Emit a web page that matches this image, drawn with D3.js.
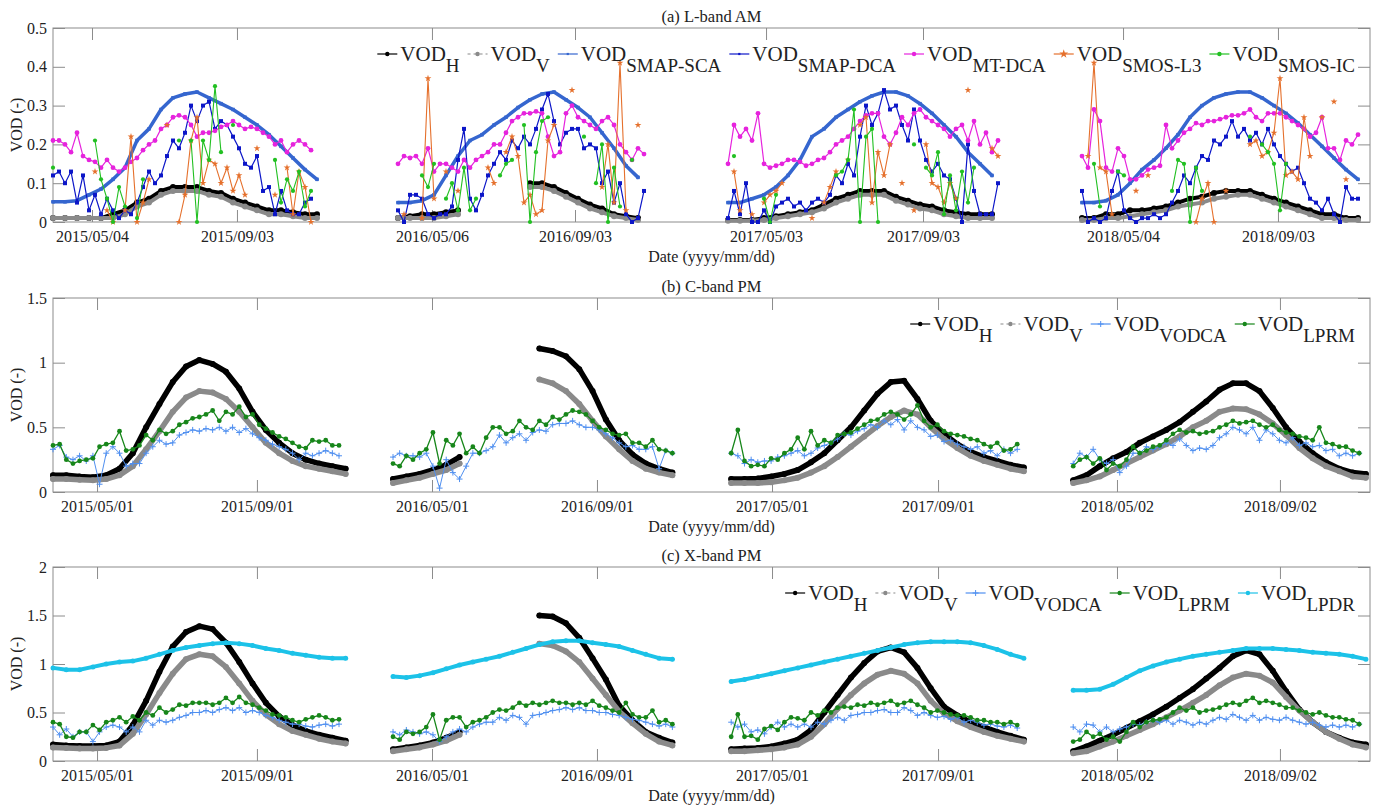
<!DOCTYPE html>
<html><head><meta charset="utf-8">
<script src="https://cdn.jsdelivr.net/npm/d3@7"></script>
<style>
body{margin:0;background:#fff;}
svg{display:block;}
text{font-family:"Liberation Serif","DejaVu Serif",serif;fill:#222;}
</style>
</head><body>
<svg id="chart" width="1380" height="805"></svg>
<script>
// ---------------- DATA ----------------
// x values are sample indices (days of the concatenated growing seasons); each series is 4 seasons
const aTicks = [32.5, 153.3, 315.8, 435, 594.2, 725, 891.7, 1020.8];
const aTickLabels = ["2015/05/04","2015/09/03","2016/05/06","2016/09/03","2017/05/03","2017/09/03","2018/05/04","2018/09/03"];
const aSeasonStart = [0, 287.5, 562.5, 857.5];
const aYTicks = [0, 0.1, 0.2, 0.3, 0.4, 0.5];
const aYLabels = ["0","0.1","0.2","0.3","0.4","0.5"];

const bcTicks = [33.1, 153.3, 284.9, 408.9, 540.5, 665.3, 799.8, 922.3];
const bcTickLabels = ["2015/05/01","2015/09/01","2016/05/01","2016/09/01","2017/05/01","2017/09/01","2018/05/02","2018/09/02"];
const bcSeasonStart = [0, 255.6, 509.8, 766.9];
const bYTicks = [0, 0.5, 1, 1.5];
const bYLabels = ["0","0.5","1","1.5"];
const cYTicks = [0, 0.5, 1, 1.5, 2];
const cYLabels = ["0","0.5","1","1.5","2"];

// (a) L-band AM  (smooth series every 10 samples, noisy every 5)
const aH = [
 [0.01,0.01,0.01,0.01,0.01,0.02,0.03,0.05,0.06,0.08,0.09,0.09,0.09,0.08,0.075,0.06,0.05,0.04,0.03,0.03,0.025,0.02,0.02],
 [0.01,0.015,0.02,0.02,0.025,0.03,null,null,null,null,null,0.1,0.1,0.09,0.075,0.06,0.045,0.035,0.02,0.015,0.01],
 [0.005,0.005,0.005,0.01,0.015,0.02,0.025,0.03,0.045,0.06,0.07,0.08,0.08,0.08,0.065,0.055,0.045,0.04,0.03,0.025,0.02,0.02,0.02],
 [0.01,0.01,0.02,0.02,0.03,0.03,0.035,0.04,0.05,0.06,0.065,0.075,0.08,0.08,0.08,0.07,0.06,0.05,0.04,0.03,0.02,0.02,0.01,0.01]
];
const aV = [
 [0.01,0.01,0.01,0.01,0.01,0.01,0.02,0.04,0.05,0.07,0.08,0.08,0.08,0.07,0.065,0.05,0.04,0.03,0.02,0.02,0.015,0.01,0.01],
 [0.01,0.01,0.01,0.01,0.015,0.02,null,null,null,null,null,0.09,0.09,0.08,0.065,0.05,0.035,0.025,0.015,0.01,0.005],
 [0.003,0.003,0.003,0.005,0.01,0.015,0.02,0.025,0.035,0.05,0.06,0.07,0.07,0.07,0.055,0.045,0.035,0.03,0.02,0.015,0.01,0.01,0.01],
 [0.005,0.005,0.01,0.01,0.015,0.02,0.025,0.03,0.04,0.045,0.05,0.06,0.065,0.07,0.07,0.06,0.05,0.04,0.03,0.02,0.01,0.01,0.005,0.005]
];
const aSCA = [
 [0.052,0.052,0.055,0.07,0.085,0.11,0.14,0.21,0.24,0.29,0.32,0.33,0.335,0.32,0.305,0.29,0.27,0.25,0.225,0.195,0.165,0.135,0.11],
 [0.05,0.05,0.055,0.07,0.12,0.17,0.21,0.225,0.25,0.27,0.295,0.315,0.33,0.335,0.315,0.295,0.27,0.23,0.19,0.145,0.115],
 [0.05,0.05,0.06,0.07,0.09,0.12,0.16,0.22,0.24,0.27,0.29,0.31,0.325,0.335,0.335,0.325,0.305,0.28,0.25,0.22,0.18,0.15,0.12],
 [0.05,0.05,0.055,0.07,0.1,0.135,0.16,0.19,0.225,0.27,0.3,0.32,0.33,0.335,0.335,0.32,0.3,0.28,0.255,0.225,0.195,0.165,0.135,0.11]
];
const aDCA = [
 [0.12,0.13,0.10,0.13,0.05,0.12,0.03,0.07,0.02,0.06,0.03,0.01,0.03,0.02,0.05,0.09,0.13,0.10,0.12,0.17,0.21,0.19,0.23,0.30,0.26,0.30,0.31,0.24,0.26,0.25,0.22,0.19,0.15,0.14,0.17,0.08,0.09,0.02,0.08,0.03,0.02,0.02,0.05,0.06],
 [0.03,0.0,0.07,0.07,0.06,0.02,0.01,0.02,0.02,0.04,0.16,0.24,0.06,0.03,0.07,0.12,0.15,0.18,0.16,0.21,0.19,0.22,0.2,0.24,0.29,0.33,0.26,0.2,0.23,0.24,0.24,0.19,0.2,0.19,0.1,0.13,0.05,0.1,0.02,0.0,0.01,0.08],
 [0.01,0.08,0.02,0.1,0.0,0.0,0.03,0.0,0.04,0.05,0.06,0.04,0.05,0.03,0.05,0.06,0.05,0.07,0.12,0.1,0.15,0.12,0.22,0.3,0.25,0.28,0.34,0.29,0.3,0.25,0.21,0.29,0.21,0.16,0.13,0.15,0.12,0.11,0.06,0.0,0.2,0.08,0.02,0.02,0.02,0.1],
 [0.08,0.0,0.01,0.0,0.01,0.08,0.13,0.03,0.01,0.0,0.01,0.01,0.02,0.01,0.02,0.05,0.08,0.12,0.1,0.14,0.17,0.16,0.21,0.2,0.22,0.26,0.22,0.24,0.21,0.23,0.2,0.24,0.2,0.17,0.15,0.13,0.14,0.1,0.06,0.05,0.03,0.06,0.02,0.0,0.09,0.06,0.06]
];
const aMT = [
 [0.21,0.21,0.20,0.18,0.23,0.17,0.16,0.155,0.14,0.16,0.14,0.13,0.14,0.155,0.165,0.185,0.20,0.21,0.24,0.25,0.27,0.275,0.27,0.25,0.22,0.23,0.23,0.235,0.245,0.25,0.26,0.25,0.24,0.245,0.24,0.23,0.22,0.20,0.21,0.18,0.20,0.21,0.20,0.185],
 [0.15,0.17,0.165,0.17,0.15,0.19,0.13,0.15,0.15,0.14,0.13,0.16,0.14,0.16,0.17,0.18,0.2,0.2,0.23,0.26,0.27,0.28,0.28,0.285,0.28,0.22,0.17,0.18,0.28,0.3,0.27,0.26,0.25,0.24,0.26,0.27,0.25,0.2,0.18,0.16,0.19,0.175],
 [0.15,0.25,0.22,0.24,0.21,0.28,0.15,0.14,0.145,0.15,0.16,0.16,0.155,0.145,0.15,0.16,0.165,0.18,0.2,0.21,0.22,0.24,0.26,0.275,0.28,0.28,0.22,0.2,0.23,0.27,0.25,0.28,0.29,0.27,0.26,0.25,0.24,0.22,0.24,0.25,0.21,0.26,0.2,0.23,0.18,0.21],
 [0.17,0.14,0.29,0.26,0.14,0.13,0.19,0.17,0.11,0.11,0.12,0.135,0.14,0.145,0.25,0.19,0.21,0.23,0.24,0.255,0.25,0.26,0.26,0.265,0.27,0.275,0.275,0.28,0.29,0.27,0.26,0.28,0.28,0.28,0.27,0.26,0.25,0.24,0.22,0.23,0.27,0.19,0.19,0.16,0.21,0.2,0.225]
];
const aL3 = [
 [null,null,null,null,null,null,null,0.13,null,0.03,0.0,null,0.03,0.22,0.0,0.05,0.11,null,null,0.25,null,0.0,0.07,0.21,0.27,0.1,0.16,0.15,0.1,0.14,0.08,0.12,0.07,null,0.19,null,null,0.07,null,0.14,0.02,0.13,0.09,0.0],
 [null,0.02,null,null,0.01,0.37,0.06,null,0.13,null,0.08,null,null,null,null,0.14,0.1,null,0.18,0.22,0.17,0.05,0.07,0.02,0.03,0.21,0.25,null,null,0.34,null,null,null,null,0.09,0.2,0.05,0.41,0.03,null,0.25,null],
 [null,0.13,0.03,null,0.02,null,0.05,0.07,0.08,0.1,null,null,null,null,0.01,null,0.05,0.09,0.13,null,0.16,null,0.25,0.27,0.05,0.18,0.12,0.2,null,0.1,null,0.03,null,0.2,0.1,0.09,0.05,0.1,0.06,null,0.34,null,null,null,0.19,0.17],
 [null,0.17,0.41,0.14,0.13,0.02,null,null,null,0.08,null,0.12,null,null,null,null,null,null,null,0.0,0.06,0.1,0.0,null,0.08,null,null,null,0.2,0.21,0.17,0.18,0.23,0.37,0.12,0.13,0.11,0.27,0.17,null,0.27,null,0.31,null,0.11,null,null]
];
const aIC = [
 [0.14,null,null,null,null,null,null,0.21,0.11,0.06,0.0,0.09,0.04,null,0.01,0.11,null,null,null,null,null,0.21,null,0.21,0.0,0.21,0.16,0.35,0.18,null,0.25,null,null,null,null,null,null,0.16,0.05,0.11,0.08,0.13,0.04,0.08],
 [null,null,null,null,0.12,0.09,0.15,null,0.06,0.1,0.03,0.14,0.03,0.06,null,null,null,0.12,0.15,0.16,null,0.25,0.0,0.18,0.26,0.27,null,null,null,null,null,0.22,null,0.1,0.2,0.0,0.14,0.04,null,0.16,null,null],
 [null,0.17,null,null,null,null,0.06,0.0,0.07,null,null,null,null,null,null,null,null,null,0.12,0.13,0.16,0.29,0.0,0.22,0.24,0.0,null,null,null,null,null,0.2,null,0.14,0.12,0.18,0.02,0.12,0.03,0.13,0.05,0.14,null,null,null,null],
 [null,null,0.15,0.04,null,null,0.13,0.12,null,null,null,null,null,null,null,0.08,0.16,0.15,0.0,0.14,0.08,null,null,null,null,null,null,null,0.22,null,0.2,0.18,0.15,0.03,0.15,null,null,null,null,null,null,null,null,null,null,null,null]
];

// (b) C-band PM
const bH = [
 [0.13,0.13,0.12,0.115,0.13,0.18,0.3,0.5,0.68,0.85,0.97,1.02,0.99,0.93,0.8,0.62,0.48,0.38,0.3,0.25,0.22,0.2,0.18],
 [0.1,0.12,0.14,0.17,0.21,0.27,null,null,null,null,null,1.11,1.09,1.05,0.95,0.78,0.56,0.4,0.29,0.22,0.18,0.15],
 [0.1,0.1,0.105,0.12,0.14,0.17,0.23,0.3,0.4,0.5,0.63,0.76,0.85,0.86,0.72,0.55,0.45,0.37,0.31,0.27,0.24,0.21,0.19],
 [0.09,0.13,0.2,0.26,0.31,0.38,0.43,0.48,0.54,0.62,0.7,0.79,0.84,0.84,0.78,0.65,0.5,0.39,0.3,0.23,0.18,0.15,0.14]
];
const bV = [
 [0.1,0.1,0.095,0.09,0.1,0.13,0.2,0.33,0.47,0.62,0.73,0.78,0.77,0.72,0.62,0.5,0.38,0.3,0.24,0.2,0.18,0.16,0.14],
 [0.07,0.09,0.11,0.14,0.17,0.22,null,null,null,null,null,0.87,0.84,0.78,0.68,0.55,0.43,0.33,0.24,0.18,0.15,0.13],
 [0.07,0.07,0.07,0.075,0.09,0.11,0.15,0.2,0.27,0.35,0.43,0.51,0.58,0.63,0.6,0.5,0.41,0.34,0.28,0.24,0.21,0.18,0.16],
 [0.07,0.09,0.12,0.17,0.22,0.27,0.32,0.37,0.43,0.5,0.55,0.62,0.645,0.64,0.6,0.53,0.44,0.34,0.26,0.2,0.16,0.12,0.11]
];
const bVODCA = [
 [0.33,0.36,0.27,0.25,0.28,0.24,0.28,0.06,0.3,0.35,0.3,0.2,0.22,0.22,0.3,0.35,0.4,0.37,0.38,0.44,0.46,0.48,0.47,0.49,0.48,0.5,0.47,0.5,0.46,0.49,0.45,0.42,0.4,0.37,0.35,0.33,0.3,0.25,0.3,0.28,0.3,0.32,0.3,0.28],
 [0.27,0.3,0.28,0.28,0.27,0.3,0.2,0.03,0.25,0.15,0.1,0.2,0.3,0.3,0.32,0.35,0.44,0.38,0.42,0.45,0.4,0.46,0.48,0.47,0.52,0.53,0.53,0.55,0.52,0.5,0.5,0.48,0.45,0.42,0.38,0.35,0.36,0.33,0.33,0.35,0.18,0.32,0.3],
 [0.3,0.28,0.22,0.25,0.23,0.24,0.24,0.27,0.28,0.3,0.32,0.28,0.3,0.34,0.36,0.38,0.41,0.45,0.44,0.47,0.49,0.52,0.5,0.55,0.52,0.56,0.48,0.55,0.5,0.48,0.43,0.44,0.39,0.4,0.37,0.35,0.33,0.35,0.3,0.32,0.28,0.33,0.3,0.33],
 [0.22,0.3,0.27,0.33,0.25,0.22,0.25,0.15,0.2,0.3,0.3,0.35,0.33,0.35,0.38,0.36,0.41,0.36,0.32,0.34,0.33,0.36,0.42,0.45,0.5,0.48,0.45,0.5,0.4,0.48,0.45,0.4,0.38,0.42,0.36,0.38,0.35,0.36,0.32,0.33,0.28,0.3,0.28,0.3]
];
const bLPRM = [
 [0.36,0.37,0.25,0.22,0.24,0.25,0.26,0.35,0.37,0.38,0.47,0.32,0.33,0.36,0.44,0.4,0.48,0.45,0.47,0.52,0.54,0.57,0.58,0.6,0.63,0.55,0.62,0.6,0.66,0.58,0.6,0.52,0.49,0.46,0.43,0.41,0.38,0.35,0.34,0.4,0.39,0.4,0.36,0.36],
 [0.22,0.2,0.28,0.25,0.3,0.33,0.46,0.22,0.4,0.36,0.45,0.3,0.35,0.3,0.42,0.5,0.5,0.45,0.47,0.55,0.5,0.48,0.55,0.52,0.58,0.56,0.6,0.63,0.62,0.6,0.55,0.5,0.48,0.45,0.44,0.45,0.38,0.38,0.35,0.4,0.33,0.32,0.3],
 [0.3,0.48,0.24,0.2,0.21,0.2,0.26,0.25,0.3,0.33,0.42,0.33,0.47,0.36,0.4,0.38,0.44,0.45,0.46,0.49,0.52,0.55,0.56,0.6,0.62,0.6,0.56,0.6,0.67,0.55,0.5,0.52,0.47,0.45,0.44,0.43,0.41,0.4,0.37,0.35,0.38,0.32,0.33,0.37],
 [0.2,0.25,0.27,0.22,0.26,0.17,0.22,0.2,0.25,0.35,0.3,0.32,0.35,0.36,0.4,0.45,0.48,0.46,0.47,0.45,0.46,0.47,0.5,0.52,0.55,0.53,0.54,0.55,0.52,0.5,0.52,0.48,0.46,0.45,0.43,0.42,0.4,0.5,0.38,0.37,0.35,0.35,0.32,0.3]
];

// (c) X-band PM
const cH = [
 [0.17,0.16,0.155,0.155,0.16,0.2,0.37,0.62,0.92,1.18,1.33,1.39,1.36,1.22,1.02,0.8,0.6,0.46,0.37,0.31,0.27,0.24,0.21],
 [0.12,0.14,0.16,0.19,0.24,0.3,null,null,null,null,null,1.5,1.49,1.42,1.27,1.06,0.84,0.57,0.42,0.3,0.24,0.19],
 [0.12,0.13,0.135,0.15,0.18,0.22,0.32,0.5,0.68,0.86,1.01,1.13,1.17,1.12,0.96,0.75,0.56,0.47,0.4,0.35,0.3,0.26,0.22],
 [0.1,0.15,0.21,0.27,0.34,0.41,0.48,0.56,0.65,0.74,0.85,0.96,1.08,1.14,1.1,0.93,0.72,0.53,0.4,0.3,0.24,0.19,0.17]
];
const cV = [
 [0.14,0.135,0.13,0.13,0.135,0.16,0.28,0.48,0.7,0.9,1.05,1.1,1.08,0.97,0.8,0.62,0.48,0.38,0.31,0.27,0.23,0.2,0.18],
 [0.1,0.12,0.14,0.17,0.21,0.27,null,null,null,null,null,1.21,1.19,1.13,1.02,0.85,0.68,0.51,0.39,0.28,0.2,0.16],
 [0.1,0.1,0.11,0.12,0.14,0.17,0.25,0.38,0.54,0.68,0.8,0.89,0.93,0.9,0.8,0.62,0.49,0.41,0.35,0.3,0.26,0.23,0.2],
 [0.08,0.1,0.15,0.2,0.26,0.32,0.38,0.45,0.52,0.6,0.68,0.78,0.86,0.9,0.88,0.81,0.66,0.52,0.4,0.3,0.23,0.17,0.14]
];
const cVODCA = [
 [0.35,0.27,0.33,0.25,0.3,0.3,0.2,0.3,0.35,0.37,0.35,0.3,0.35,0.3,0.42,0.37,0.42,0.4,0.42,0.45,0.47,0.5,0.5,0.52,0.5,0.53,0.55,0.52,0.55,0.5,0.52,0.5,0.47,0.45,0.42,0.4,0.38,0.38,0.36,0.35,0.37,0.38,0.36,0.38],
 [0.3,0.27,0.32,0.3,0.28,0.3,0.27,0.2,0.25,0.3,0.33,0.3,0.35,0.38,0.4,0.4,0.45,0.42,0.47,0.45,0.38,0.47,0.48,0.5,0.52,0.53,0.55,0.53,0.55,0.52,0.52,0.5,0.5,0.48,0.47,0.45,0.43,0.42,0.4,0.38,0.36,0.38,0.35],
 [0.4,0.35,0.38,0.3,0.32,0.28,0.35,0.4,0.35,0.38,0.35,0.38,0.35,0.4,0.38,0.42,0.45,0.42,0.47,0.48,0.5,0.5,0.52,0.53,0.5,0.5,0.55,0.52,0.47,0.5,0.47,0.45,0.46,0.43,0.45,0.4,0.42,0.4,0.37,0.38,0.36,0.35,0.37,0.34],
 [0.35,0.3,0.38,0.37,0.3,0.35,0.3,0.33,0.35,0.38,0.37,0.4,0.42,0.4,0.42,0.38,0.42,0.4,0.37,0.4,0.38,0.42,0.45,0.43,0.48,0.45,0.42,0.47,0.42,0.45,0.43,0.42,0.45,0.42,0.4,0.38,0.4,0.37,0.35,0.37,0.35,0.37,0.35,0.38]
];
const cLPRM = [
 [0.4,0.38,0.25,0.24,0.3,0.3,0.37,0.32,0.4,0.42,0.45,0.4,0.46,0.42,0.5,0.47,0.55,0.5,0.53,0.58,0.57,0.6,0.6,0.6,0.58,0.6,0.65,0.6,0.66,0.6,0.58,0.55,0.52,0.48,0.47,0.45,0.42,0.4,0.43,0.45,0.47,0.45,0.42,0.43],
 [0.25,0.22,0.3,0.28,0.3,0.35,0.48,0.22,0.42,0.45,0.45,0.35,0.4,0.42,0.45,0.5,0.53,0.52,0.55,0.6,0.57,0.6,0.58,0.6,0.62,0.6,0.6,0.58,0.6,0.58,0.62,0.57,0.55,0.52,0.5,0.6,0.48,0.45,0.45,0.52,0.4,0.42,0.38],
 [0.25,0.48,0.25,0.26,0.22,0.33,0.36,0.32,0.4,0.45,0.44,0.42,0.5,0.47,0.52,0.5,0.55,0.56,0.55,0.58,0.57,0.6,0.58,0.6,0.62,0.58,0.6,0.62,0.58,0.55,0.5,0.52,0.5,0.48,0.47,0.47,0.45,0.42,0.42,0.4,0.4,0.38,0.4,0.37],
 [0.2,0.22,0.3,0.25,0.28,0.22,0.25,0.2,0.3,0.4,0.35,0.4,0.42,0.43,0.45,0.5,0.55,0.52,0.55,0.5,0.52,0.53,0.55,0.58,0.6,0.58,0.62,0.65,0.6,0.62,0.6,0.58,0.55,0.55,0.52,0.5,0.48,0.5,0.47,0.45,0.45,0.43,0.42,0.38]
];
const cLPDR = [
 [0.96,0.94,0.94,0.97,1.0,1.02,1.03,1.06,1.1,1.14,1.17,1.19,1.21,1.22,1.21,1.19,1.16,1.14,1.11,1.09,1.07,1.06,1.06],
 [0.87,0.86,0.88,0.91,0.95,0.99,1.02,1.05,1.08,1.12,1.16,1.2,1.23,1.24,1.24,1.22,1.2,1.18,1.14,1.1,1.06,1.05],
 [0.82,0.84,0.87,0.9,0.93,0.96,0.99,1.02,1.05,1.08,1.11,1.14,1.17,1.2,1.22,1.23,1.23,1.23,1.22,1.19,1.15,1.1,1.06],
 [0.73,0.73,0.74,0.79,0.86,0.93,0.98,1.02,1.05,1.08,1.1,1.12,1.14,1.16,1.16,1.16,1.15,1.14,1.12,1.11,1.1,1.08,1.05]
];

// ---------------- STYLE ----------------
const STYLE = {
  H:     {sub:"H",        color:"#000000", sym:"circle"},
  V:     {sub:"V",        color:"#8a8a8a", sym:"circle", dash:"3,3"},
  SCA:   {sub:"SMAP-SCA", color:"#3566cf", sym:"square"},
  DCA:   {sub:"SMAP-DCA", color:"#0c16c8", sym:"square"},
  MT:    {sub:"MT-DCA",   color:"#e623dd", sym:"circle"},
  L3:    {sub:"SMOS-L3",  color:"#e5702c", sym:"star"},
  IC:    {sub:"SMOS-IC",  color:"#22c022", sym:"circle"},
  VODCA: {sub:"VODCA",    color:"#4f8ff0", sym:"plus"},
  LPRM:  {sub:"LPRM",     color:"#17861a", sym:"circle"},
  LPDR:  {sub:"LPDR",     color:"#1cc2e8", sym:"circle"}
};

const X0 = 53, X1 = 1370;
const panels = [
  {title:"(a) L-band AM", top:28, bottom:222, yMax:0.5, yTicks:aYTicks, yLabels:aYLabels,
   xMax:1097.5, ticks:aTicks, tickLabels:aTickLabels, starts:aSeasonStart,
   series:[
     {key:"H", data:aH, step:10, w:4, ms:3},
     {key:"V", data:aV, step:10, w:4, ms:3},
     {key:"SCA", data:aSCA, step:10, w:3.5, ms:3.5},
     {key:"DCA", data:aDCA, step:5, w:1.2, ms:4},
     {key:"MT", data:aMT, step:5, w:1.2, ms:2.4},
     {key:"L3", data:aL3, step:5, w:1.1, ms:1.7},
     {key:"IC", data:aIC, step:5, w:1.1, ms:2.1}
   ]},
  {title:"(b) C-band PM", top:298, bottom:492, yMax:1.5, yTicks:bYTicks, yLabels:bYLabels,
   xMax:990, ticks:bcTicks, tickLabels:bcTickLabels, starts:bcSeasonStart,
   series:[
     {key:"H", data:bH, step:10, w:5.5, ms:3},
     {key:"V", data:bV, step:10, w:5.5, ms:3},
     {key:"VODCA", data:bVODCA, step:5, w:1, ms:3},
     {key:"LPRM", data:bLPRM, step:5, w:1.3, ms:2.4}
   ]},
  {title:"(c) X-band PM", top:567, bottom:761, yMax:2, yTicks:cYTicks, yLabels:cYLabels,
   xMax:990, ticks:bcTicks, tickLabels:bcTickLabels, starts:bcSeasonStart,
   series:[
     {key:"H", data:cH, step:10, w:5.5, ms:3},
     {key:"V", data:cV, step:10, w:5.5, ms:3},
     {key:"VODCA", data:cVODCA, step:5, w:1, ms:3},
     {key:"LPRM", data:cLPRM, step:5, w:1.3, ms:2.4},
     {key:"LPDR", data:cLPDR, step:10, w:4, ms:2.5}
   ]}
];

const svg = d3.select("#chart");
const FONT = "Liberation Serif, DejaVu Serif, serif";

function marker(sel, st, ms) {
  if (st.sym === "plus") {
    sel.append("path").attr("d", `M${-ms},0H${ms}M0,${-ms}V${ms}`)
      .attr("stroke", st.color).attr("stroke-width", 1).attr("fill", "none");
  } else {
    const type = st.sym === "square" ? d3.symbolSquare : st.sym === "star" ? d3.symbolStar : d3.symbolCircle;
    const area = st.sym === "square" ? ms*ms : st.sym === "star" ? ms*ms*5 : Math.PI*ms*ms;
    sel.append("path").attr("d", d3.symbol().type(type).size(area)).attr("fill", st.color);
  }
}

panels.forEach(p => {
  const g = svg.append("g");
  const x = d3.scaleLinear().domain([0, p.xMax]).range([X0, X1]);
  const y = d3.scaleLinear().domain([0, p.yMax]).range([p.bottom, p.top]);
  const midX = (X0 + X1) / 2;

  g.append("rect").attr("x", X0).attr("y", p.top).attr("width", X1 - X0).attr("height", p.bottom - p.top)
    .attr("fill", "none").attr("stroke", "#8c8c8c").attr("stroke-width", 1);

  const styleAxis = a => {
    a.select(".domain").remove();
    a.attr("font-family", FONT).attr("font-size", 16);
    a.selectAll("line").attr("stroke", "#8c8c8c");
    a.selectAll("text").attr("fill", "#222");
  };
  const gxb = g.append("g").attr("transform", `translate(0,${p.bottom})`)
    .call(d3.axisBottom(x).tickValues(p.ticks).tickFormat((d, i) => p.tickLabels[i]).tickSizeInner(-12).tickSizeOuter(0).tickPadding(9));
  styleAxis(gxb);
  const gxt = g.append("g").attr("transform", `translate(0,${p.top})`)
    .call(d3.axisTop(x).tickValues(p.ticks).tickFormat("").tickSizeInner(-12).tickSizeOuter(0));
  styleAxis(gxt);
  const gyl = g.append("g").attr("transform", `translate(${X0},0)`)
    .call(d3.axisLeft(y).tickValues(p.yTicks).tickFormat((d, i) => p.yLabels[i]).tickSizeInner(-12).tickSizeOuter(0).tickPadding(6));
  styleAxis(gyl);
  const gyr = g.append("g").attr("transform", `translate(${X1},0)`)
    .call(d3.axisRight(y).tickValues(p.yTicks).tickFormat("").tickSizeInner(-12).tickSizeOuter(0));
  styleAxis(gyr);

  g.append("text").attr("x", midX).attr("y", p.top - 6).attr("text-anchor", "middle")
    .attr("font-size", 16.5).text(p.title);
  g.append("text").attr("x", midX).attr("y", p.bottom + 40).attr("text-anchor", "middle")
    .attr("font-size", 16).text("Date (yyyy/mm/dd)");
  g.append("text").attr("transform", `translate(22,${(p.top + p.bottom) / 2}) rotate(-90)`)
    .attr("text-anchor", "middle").attr("font-size", 16).text("VOD (-)");

  const plot = g.append("g");
  p.series.forEach(s => {
    const st = STYLE[s.key];
    s.data.forEach((season, k) => {
      const pts = season.map((v, i) => ({t: p.starts[k] + i * s.step, v: v}));
      const line = d3.line().defined(d => d.v !== null).x(d => x(d.t)).y(d => y(d.v));
      plot.append("path").attr("d", line(pts)).attr("fill", "none")
        .attr("stroke", st.color).attr("stroke-width", s.w)
        .attr("stroke-linejoin", "round").attr("stroke-linecap", "round");
      pts.filter(d => d.v !== null).forEach(d => {
        const m = plot.append("g").attr("transform", `translate(${x(d.t)},${y(d.v)})`);
        marker(m, st, s.ms);
      });
    });
  });

  // legend: one text element per entry ("VOD" + subscript tspan), right aligned
  const lg = g.append("g");
  const base = p.top + 33;
  let cx = 0;
  p.series.forEach((s, i) => {
    const st = STYLE[s.key];
    const ly = base - 7;
    lg.append("line").attr("x1", cx).attr("x2", cx + 20).attr("y1", ly).attr("y2", ly)
      .attr("stroke", st.color).attr("stroke-width", 1.2)
      .attr("stroke-dasharray", st.dash || null);
    const m = lg.append("g").attr("transform", `translate(${cx + 10},${ly})`);
    marker(m, st, st.sym === "plus" ? 3 : 2.2);
    cx += 23;
    const t = lg.append("text").attr("x", cx).attr("y", base).attr("font-size", 21);
    t.append("tspan").text("VOD");
    t.append("tspan").attr("dy", 11).attr("font-size", 19).text(st.sub);
    cx += t.node().getComputedTextLength();
    if (i < p.series.length - 1) cx += 8;
  });
  lg.attr("transform", `translate(${1355 - cx},0)`);
});
</script>
</body></html>
